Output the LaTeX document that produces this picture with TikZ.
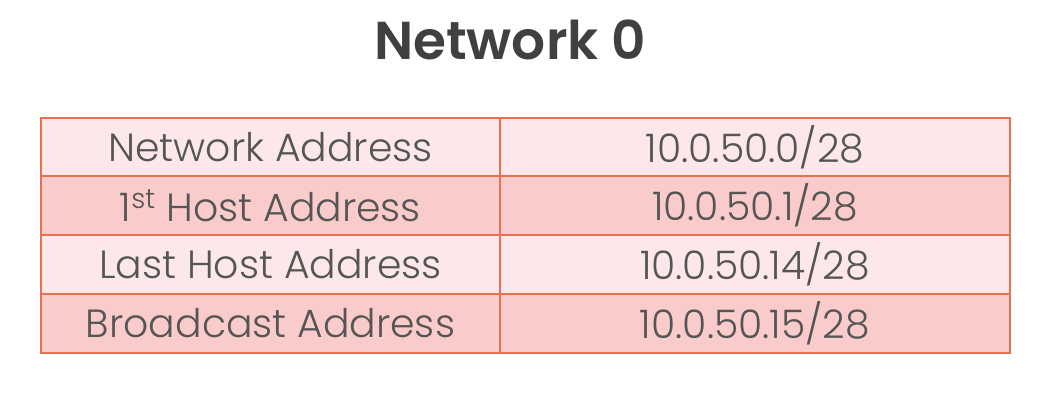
\documentclass[tikz,border=0pt]{standalone}
\usepackage{fontspec}
\setmainfont{Poppins}
\newfontfamily\lightfont{Poppins Light}
\newfontfamily\titlefont{Poppins SemiBold}
\definecolor{edge}{HTML}{E8724F}
\definecolor{rowlight}{HTML}{FCE8E8}
\definecolor{rowdark}{HTML}{F9CBCB}
\definecolor{ink}{HTML}{555555}
\definecolor{titleink}{HTML}{404040}
\tikzset{
  cell/.style={draw=edge, line width=1.5pt, inner sep=0pt, text=ink,
    minimum height=44pt, font=\lightfont\fontsize{29.5}{32}\selectfont},
  leftcell/.style={cell, minimum width=344.25pt},
  rightcell/.style={cell, minimum width=382.5pt},
}
\begin{document}
\begin{tikzpicture}[x=0.75pt, y=-0.75pt]
    \useasboundingbox (0, 0) rectangle (1057, 402);
    \node (title) at (510, 40) [text=titleink, font=\titlefont\fontsize{40}{44}\selectfont] {Network 0};
    \node (na) at (270.5, 147) [leftcell, fill=rowlight] {Network Address};
    \node (fh) at (270.5, 205.75) [leftcell, fill=rowdark] {1\textsuperscript{st} Host Address};
    \node (lh) at (270.5, 264.5) [leftcell, fill=rowlight] {Last Host Address};
    \node (ba) at (270.5, 323.25) [leftcell, fill=rowdark] {Broadcast Address};
    \node (na') at (755, 147) [rightcell, fill=rowlight] {10.0.50.0/28};
    \node (fh') at (755, 205.75) [rightcell, fill=rowdark] {10.0.50.1/28};
    \node (lh') at (755, 264.5) [rightcell, fill=rowlight] {10.0.50.14/28};
    \node (ba') at (755, 323.25) [rightcell, fill=rowdark] {10.0.50.15/28};
\end{tikzpicture}
\end{document}
